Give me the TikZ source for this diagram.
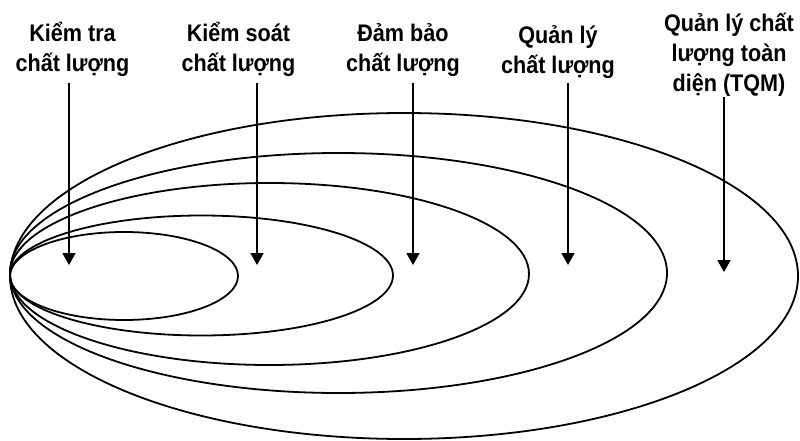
\documentclass[tikz,border=0pt]{standalone}
\usepackage{fontspec}
\setmainfont{Liberation Sans}
\newfontfamily\lblfont[FakeStretch=0.9]{Liberation Sans}
\usetikzlibrary{arrows.meta}
\begin{document}
\begin{tikzpicture}[x=1pt,y=-1pt,
  lbl/.style={font=\lblfont\fontsize{24}{30}\selectfont\bfseries, align=center, inner sep=0pt, anchor=base},
  ring/.style={line width=1.8pt},
  arr/.style={line width=1.8pt, -{Triangle[width=13pt,length=12pt]}}]
\useasboundingbox (0,0) rectangle (800,441);
% labels
\node[lbl] (l1) at (72.5,71.7) {Kiểm tra\\chất lượng};
\node[lbl] (l2) at (238.5,71.7) {Kiểm soát\\chất lượng};
\node[lbl] (l3) at (403,71.7) {Đảm bảo\\chất lượng};
\node[lbl] (l4) at (558,73.5) {Quản lý\\chất lượng};
\node[lbl] (l5) at (729,92) {Quản lý chất\\lượng toàn\\diện (TQM)};
% ellipses
\draw[ring] (124,276) ellipse [x radius=114pt, y radius=44pt];
\draw[ring] (201.5,275.5) ellipse [x radius=191.5pt, y radius=60pt];
\draw[ring] (269.5,274) ellipse [x radius=259.5pt, y radius=91pt];
\draw[ring] (338.5,273) ellipse [x radius=328.5pt, y radius=120pt];
\draw[ring] (404,276) ellipse [x radius=394pt, y radius=163pt];
% arrows
\coordinate (s1) at (69,83);  \coordinate (e1) at (69,265);
\coordinate (s2) at (257,83); \coordinate (e2) at (257,265);
\coordinate (s3) at (413,83); \coordinate (e3) at (413,265);
\coordinate (s4) at (568,83); \coordinate (e4) at (568,265);
\coordinate (s5) at (724,97); \coordinate (e5) at (724,272);
\draw[arr] (s1) -- (e1);
\draw[arr] (s2) -- (e2);
\draw[arr] (s3) -- (e3);
\draw[arr] (s4) -- (e4);
\draw[arr] (s5) -- (e5);
\end{tikzpicture}
\end{document}
